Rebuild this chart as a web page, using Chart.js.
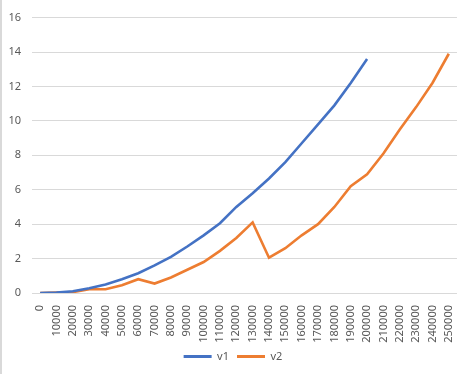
<!DOCTYPE html>
<html>
<head>
<meta charset="utf-8">
<script src="https://cdn.jsdelivr.net/npm/chart.js"></script>
<style>
  body { margin: 0; background: #fff; }
  #wrap { width: 462px; height: 374px; overflow: hidden; border-left: 2px solid #d9d9d9; box-sizing: border-box; }
  #box { width: 466px; height: 374px; margin-left: -2px; }
</style>
</head>
<body>
<div id="wrap"><div id="box"><canvas id="myChart"></canvas></div></div>
<script>
  const labels = ['0','10000','20000','30000','40000','50000','60000','70000','80000','90000',
    '100000','110000','120000','130000','140000','150000','160000','170000','180000','190000',
    '200000','210000','220000','230000','240000','250000'];
  const v1 = [0, 0.02, 0.1, 0.28, 0.5, 0.8, 1.15, 1.6, 2.1, 2.7, 3.35, 4.05, 5.0, 5.8, 6.65,
    7.6, 8.7, 9.8, 10.9, 12.2, 13.6];
  const v2 = [0, 0.02, 0.05, 0.22, 0.22, 0.45, 0.8, 0.55, 0.9, 1.35, 1.8, 2.45, 3.2, 4.1, 2.05,
    2.6, 3.35, 4.0, 5.0, 6.2, 6.9, 8.1, 9.5, 10.8, 12.2, 13.9];
  const yTicks = [0, 2, 4, 6, 8, 10, 12, 14, 16];

  const ctx = document.getElementById('myChart');
  const font = { family: 'Noto Sans', size: 11 };

  new Chart(ctx, {
    type: 'line',
    data: {
      labels: labels,
      datasets: [
        { label: 'v1', data: v1, borderColor: '#4472c4', backgroundColor: '#4472c4', borderWidth: 2.6, pointRadius: 0, tension: 0 },
        { label: 'v2', data: v2, borderColor: '#ed7d31', backgroundColor: '#ed7d31', borderWidth: 2.6, pointRadius: 0, tension: 0 }
      ]
    },
    options: {
      responsive: true,
      maintainAspectRatio: false,
      animation: false,
      layout: { padding: { top: 10, right: 0, bottom: 2, left: 0 } },
      plugins: {
        tooltip: { enabled: false },
        legend: {
          position: 'bottom',
          labels: {
            color: '#595959', font: font, boxWidth: 28, boxHeight: 3, padding: 8,
            generateLabels: function(chart) {
              return chart.data.datasets.map(function(ds, i) {
                return { text: ds.label, fillStyle: ds.borderColor, strokeStyle: ds.borderColor,
                  lineWidth: 0, fontColor: '#595959', datasetIndex: i };
              });
            }
          }
        }
      },
      scales: {
        x: {
          offset: true,
          grid: { display: false },
          border: { display: false },
          ticks: { color: '#595959', font: font, minRotation: 90, maxRotation: 90, autoSkip: false, padding: 4 },
          afterFit: function(s) { s.height = 50; }
        },
        y: {
          min: 0, max: 16,
          afterBuildTicks: function(s) { s.ticks = yTicks.map(function(v) { return { value: v }; }); },
          grid: { color: '#d9d9d9', drawTicks: false },
          border: { display: false },
          ticks: { color: '#595959', font: font, padding: 11 },
          afterFit: function(s) { s.width = 32; }
        }
      }
    }
  });
</script>
</body>
</html>
